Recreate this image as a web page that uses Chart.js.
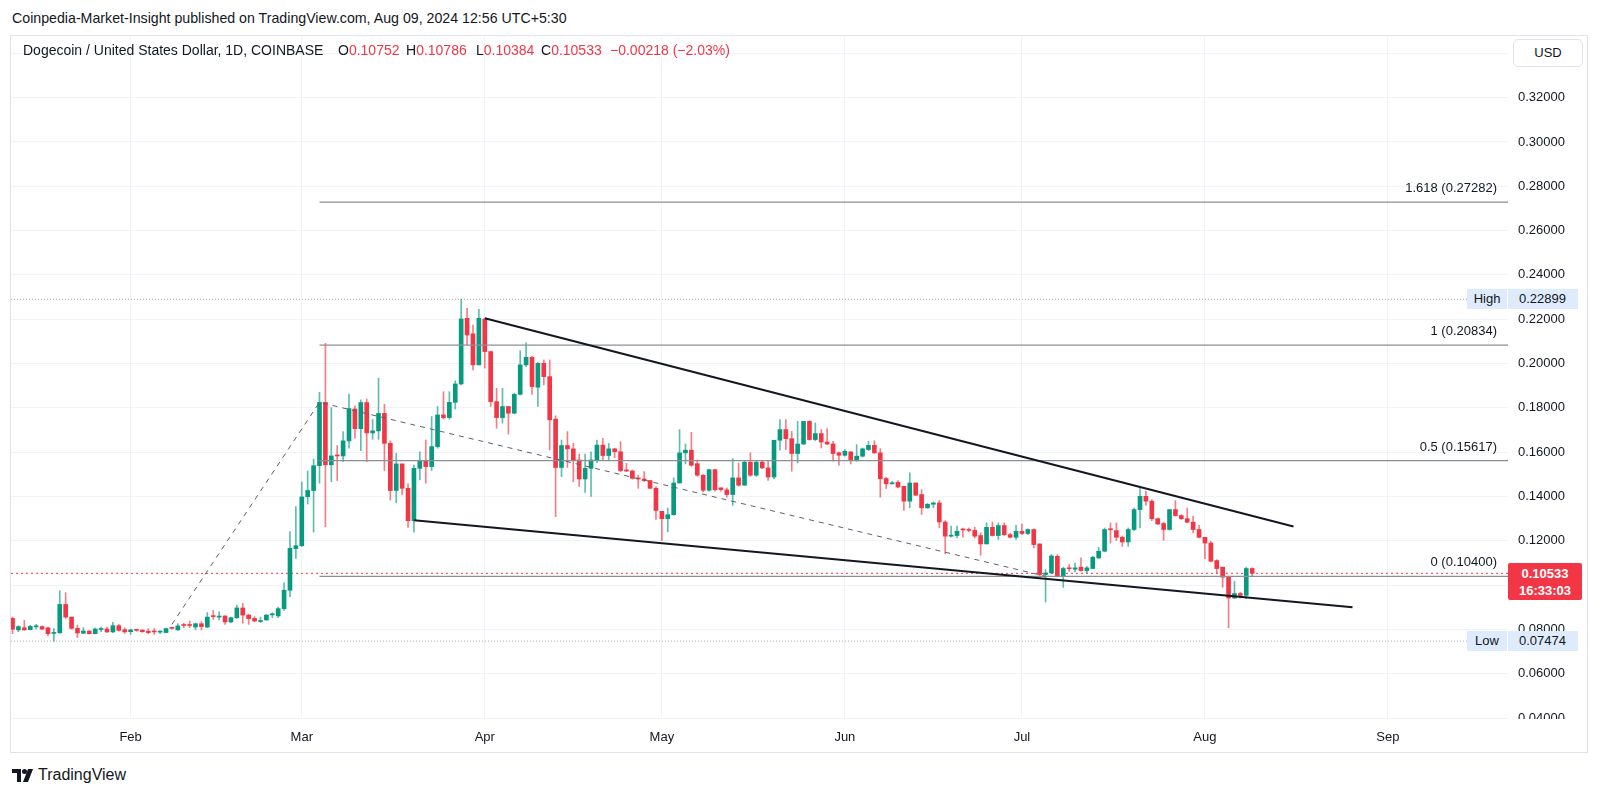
<!DOCTYPE html>
<html><head><meta charset="utf-8">
<script src="https://cdn.jsdelivr.net/npm/chart.js@4.4.1/dist/chart.umd.min.js"></script>
<style>
html,body{margin:0;padding:0}
body{width:1600px;height:796px;background:#fff;overflow:hidden;position:relative;font-family:"Liberation Sans",Arial,sans-serif;color:#131722}
#hdr{position:absolute;left:12px;top:10px;font-size:14.2px;white-space:nowrap}
#frame{position:absolute;left:10px;top:35px;width:1578px;height:718px;border:1px solid #e0e3eb;box-sizing:border-box}
#wrap{position:absolute;left:11px;top:36px;width:1577px;height:716px}
.lg{position:absolute;top:42px;font-size:14px;white-space:nowrap}
.red{color:#f23645}
.ov{position:absolute;white-space:nowrap;font-size:13px}
#foot{position:absolute;left:12px;top:765px;height:20px;display:flex;align-items:center}
#foot span{font-size:16px;margin-left:3px;color:#131722}
</style>
</head><body>
<div id="hdr">Coinpedia-Market-Insight published on TradingView.com, Aug 09, 2024 12:56 UTC+5:30</div>
<div id="frame"></div>
<div id="wrap"><canvas id="c"></canvas></div>
<div class="lg" style="left:23px">Dogecoin / United States Dollar, 1D, COINBASE</div>
<div class="lg" style="left:338px">O<span class="red">0.10752</span></div>
<div class="lg" style="left:406px">H<span class="red">0.10786</span></div>
<div class="lg" style="left:476px">L<span class="red">0.10384</span></div>
<div class="lg" style="left:541px">C<span class="red">0.10533</span></div>
<div class="lg red" style="left:610px">−0.00218 (−2.03%)</div>
<div class="ov" style="left:1513px;top:39px;width:70px;height:28px;border:1px solid #e0e3eb;border-radius:5px;box-sizing:border-box;background:#fff;text-align:center;line-height:26px">USD</div>
<div id="overlays"></div>
<div id="foot"><svg width="23" height="15" viewBox="0 0 23 15"><path d="M0 1h9v13H5V5H0z" fill="#131722"/><circle cx="12.5" cy="3.5" r="2.5" fill="#131722"/><path d="M16 1h5l-5 13h-5z" fill="#131722"/></svg><span>TradingView</span></div>
<script>
// ---- data ----
const firstDate = '2024-01-12';
const opens = [
 .0850,.0798,.0808,.0799,.0812,.0813,.0807,.0782,.0785,.0913,.0856,.0805,.0783,.0793,.0781,.0800,.0802,.0789,.0817,.0799,
 .0790,.0797,.0797,.0792,.0790,.0788,.0786,.0806,.0798,.0820,.0819,.0811,.0826,.0811,.0860,.0856,.0861,.0834,.0853,.0897,.0865,.0850,.0836,.0843,.0866,.0861,.0894,.0977,.1165,
 .1178,.1399,.1427,.1539,.1825,.1543,.1585,.1583,.1651,.1795,.1706,.1824,.1687,.1696,.1775,.1640,.1427,.1547,.1437,.1291,.1527,.1560,.1535,.1625,.1768,.1756,.1825,.1908,.2204,.2134,.1994,
 .2201,.2054,.1828,.1756,.1806,.1776,.1861,.1994,.2028,.1893,.2001,.1941,.1749,.1531,.1630,.1615,.1565,.1479,.1527,.1565,.1632,.1585,.1615,.1602,.1520,.1515,.1482,.1479,.1472,.1437,
 .1333,.1300,.1318,.1461,.1597,.1609,.1548,.1496,.1428,.1521,.1439,.1430,.1409,.1484,.1451,.1555,.1496,.1555,.1529,.1488,.1654,.1702,.1661,.1594,.1637,.1739,.1657,.1684,.1646,.1637,.1597,
 .1586,.1601,.1566,.1582,.1612,.1631,.1597,.1481,.1457,.1464,.1446,.1379,.1461,.1409,.1349,.1365,.1371,.1285,.1221,.1224,.1251,.1249,.1247,.1224,.1186,.1261,.1224,.1269,.1228,.1216,
 .1243,.1233,.1251,.1186,.1048,.1055,.1130,.1040,.1076,.1072,.1081,.1066,.1075,.1123,.1153,.1253,.1246,.1216,.1195,.1251,.1341,.1401,.1379,.1300,.1278,.1251,.1341,.1314,.1300,.1284,.1251,
 .1216,.1190,.1111,.1081,.1040,.0942,.0962,.0954,.10752];
const highs = [
 .0856,.0817,.0841,.0819,.0823,.0816,.0811,.0804,.0974,.0966,.0856,.0820,.0808,.0795,.0807,.0811,.0811,.0832,.0823,.0808,
 .0801,.0801,.0799,.0804,.0804,.0795,.0804,.0810,.0826,.0828,.0838,.0829,.0835,.0876,.0886,.0880,.0861,.0856,.0910,.0918,.0868,.0858,.0856,.0868,.0876,.0901,.1011,.1242,.1354,
 .1466,.1515,.1569,.1870,.2091,.1801,.1630,.1693,.1862,.1809,.1836,.1840,.1748,.1934,.1816,.1651,.1595,.1547,.1457,.1542,.1602,.1655,.1761,.1806,.1873,.1873,.1922,.22899,.2249,.2174,.2245,
 .2201,.2054,.1888,.1888,.1806,.1866,.2058,.2094,.2034,.2004,.2016,.2016,.1764,.1655,.1693,.1640,.1592,.1592,.1602,.1655,.1662,.1640,.1618,.1647,.1550,.1520,.1497,.1512,.1472,.1445,
 .1333,.1348,.1484,.1702,.1637,.1690,.1565,.1499,.1524,.1524,.1439,.1439,.1571,.1551,.1559,.1597,.1559,.1559,.1559,.1654,.1747,.1747,.1694,.1739,.1739,.1742,.1732,.1702,.1706,.1649,.1600,
 .1612,.1604,.1634,.1619,.1649,.1652,.1616,.1487,.1469,.1472,.1446,.1507,.1461,.1431,.1368,.1376,.1382,.1291,.1266,.1266,.1258,.1258,.1261,.1236,.1281,.1285,.1281,.1281,.1234,.1270,
 .1276,.1254,.1254,.1186,.1070,.1138,.1138,.1081,.1093,.1100,.1123,.1085,.1130,.1171,.1258,.1281,.1281,.1221,.1258,.1348,.1439,.1424,.1386,.1303,.1284,.1341,.1381,.1318,.1348,.1311,.1270,
 .1216,.1198,.1115,.1081,.1040,.1017,.0968,.1081,.10786];
const lows = [
 .0781,.0790,.0796,.0798,.0801,.0799,.0771,.07474,.0783,.0850,.0801,.0763,.0781,.0779,.0780,.0790,.0786,.0786,.0793,.0783,
 .0778,.0792,.0787,.0781,.0778,.0781,.0784,.0801,.0796,.0808,.0808,.0798,.0798,.0808,.0846,.0843,.0823,.0831,.0850,.0828,.0823,.0835,.0831,.0841,.0853,.0853,.0886,.0948,.1121,
 .1174,.1366,.1239,.1460,.1264,.1467,.1472,.1557,.1618,.1663,.1607,.1558,.1658,.1658,.1517,.1384,.1372,.1407,.1261,.1239,.1475,.1460,.1517,.1618,.1749,.1749,.1795,.1904,.2084,.1971,.1994,
 .1979,.1806,.1708,.1731,.1682,.1773,.1858,.1986,.1861,.1806,.1904,.1610,.1309,.1490,.1531,.1467,.1445,.1418,.1400,.1553,.1565,.1565,.1575,.1512,.1512,.1478,.1437,.1467,.1437,.1297,
 .1201,.1240,.1315,.1461,.1547,.1536,.1491,.1421,.1424,.1424,.1424,.1397,.1360,.1446,.1451,.1491,.1491,.1526,.1473,.1481,.1609,.1612,.1514,.1551,.1634,.1654,.1652,.1619,.1634,.1559,.1541,
 .1582,.1547,.1559,.1577,.1607,.1594,.1397,.1436,.1457,.1439,.1337,.1349,.1404,.1319,.1346,.1349,.1258,.1141,.1216,.1213,.1216,.1240,.1213,.1135,.1186,.1221,.1206,.1224,.1213,.1206,
 .1228,.1228,.1168,.1040,.0924,.1051,.1037,.0990,.1062,.1059,.1063,.1055,.1075,.1120,.1150,.1190,.1201,.1175,.1175,.1246,.1258,.1360,.1291,.1273,.1202,.1248,.1311,.1296,.1281,.1236,.1213,
 .1120,.1105,.1055,.0990,.0807,.0939,.0942,.0939,.10384];
const closes = [
 .0801,.0813,.0798,.0814,.0815,.0802,.0781,.0786,.0913,.0856,.0805,.0784,.0793,.0781,.0802,.0803,.0789,.0817,.0796,.0789,
 .0798,.0796,.0790,.0786,.0789,.0790,.0804,.0805,.0816,.0818,.0818,.0826,.0813,.0856,.0858,.0859,.0834,.0853,.0897,.0865,.0849,.0838,.0840,.0865,.0869,.0894,.0977,.1166,.1178,
 .1398,.1427,.1539,.1825,.1543,.1583,.1583,.1651,.1797,.1706,.1824,.1687,.1696,.1775,.1640,.1427,.1547,.1437,.1291,.1527,.1560,.1535,.1625,.1768,.1756,.1825,.1908,.2201,.2129,.1994,.2204,
 .2054,.1828,.1756,.1806,.1776,.1861,.1994,.2028,.1896,.2001,.1941,.1746,.1531,.1630,.1615,.1562,.1479,.1527,.1565,.1632,.1585,.1615,.1602,.1517,.1515,.1482,.1479,.1472,.1437,.1337,
 .1300,.1318,.1461,.1597,.1609,.1541,.1496,.1428,.1521,.1431,.1431,.1409,.1484,.1451,.1555,.1496,.1555,.1529,.1488,.1654,.1702,.1661,.1594,.1637,.1739,.1657,.1684,.1646,.1637,.1594,.1586,
 .1604,.1566,.1582,.1615,.1631,.1597,.1480,.1457,.1462,.1443,.1379,.1461,.1406,.1349,.1365,.1371,.1285,.1221,.1224,.1243,.1249,.1247,.1221,.1186,.1261,.1224,.1269,.1228,.1216,.1243,
 .1233,.1251,.1183,.1048,.1055,.1132,.1040,.1075,.1074,.1078,.1066,.1078,.1126,.1153,.1251,.1250,.1216,.1195,.1251,.1341,.1401,.1379,.1300,.1276,.1251,.1341,.1314,.1300,.1284,.1251,.1216,
 .1190,.1108,.1075,.1036,.0942,.0962,.0954,.1075,.10533];

const monthTicks = ['2024-02-01','2024-03-01','2024-04-01','2024-05-01','2024-06-01','2024-07-01','2024-08-01','2024-09-01'];
const monthLabels = ['Feb','Mar','Apr','May','Jun','Jul','Aug','Sep'];

const fibRatios = ['1.618','1','0.5','0'];
const fibLevels = [0.27282, 0.20834, 0.15617, 0.10400];
const fibStartDate = '2024-03-04';
const fibPathDates = ['2024-02-08','2024-03-04','2024-07-05'];
const fibPathPrices = [0.0823, 0.1825, 0.1040];
const upperTrendDates = ['2024-04-01','2024-08-16'];
const upperTrendPrices = [0.2204, 0.1265];
const lowerTrendDates = ['2024-03-20','2024-08-26'];
const lowerTrendPrices = [0.1293, 0.0900];
const highPrice = 0.22899, lowPrice = 0.07474, lastPrice = 0.10533;
const lastCountdown = '16:33:03';

// ---- helpers ----
const DAY = 86400000;
const ORIGIN = Date.UTC(2024,1,1);
function dayOf(s){ const p = s.split('-').map(Number); return (Date.UTC(p[0],p[1]-1,p[2]) - ORIGIN)/DAY; }
const dates = [];
{ const [y,m,d] = firstDate.split('-').map(Number); const s = Date.UTC(y,m-1,d);
  for (let i=0;i<opens.length;i++) dates.push(new Date(s+i*DAY).toISOString().slice(0,10)); }

const X_MIN = -20.26, X_MAX = 233.34;
const UP = '#089981', DOWN = '#f23645';
const isUp = closes.map((c,i)=>c>=opens[i]);
const bodyData = dates.map((d,i)=>({x:dayOf(d), y:[Math.min(opens[i],closes[i]), Math.max(opens[i],closes[i])]}));
const wickData = dates.map((d,i)=>({x:dayOf(d), y:[lows[i], highs[i]]}));
const line = (xs, ys) => xs.map((x,i)=>({x, y:ys[i]}));

const datasets = [
  {type:'line', label:'upper', data: line(upperTrendDates.map(dayOf), upperTrendPrices), borderColor:'#131722', borderWidth:2, pointRadius:0, order:0},
  {type:'line', label:'lower', data: line(lowerTrendDates.map(dayOf), lowerTrendPrices), borderColor:'#131722', borderWidth:2, pointRadius:0, order:0},
  {type:'line', label:'fibpath', data: line(fibPathDates.map(dayOf), fibPathPrices), borderColor:'#5d606b', borderWidth:1, borderDash:[5,5], pointRadius:0, order:1},
];
fibLevels.forEach((lv,i)=>{
  datasets.push({type:'line', label:'fib'+fibRatios[i], data: line([dayOf(fibStartDate), X_MAX],[lv,lv]), borderColor:'#8c8f99', borderWidth:1.2, pointRadius:0, order:2});
});
datasets.push(
  {type:'bar', label:'body', data: bodyData, backgroundColor: isUp.map(u=>u?UP:DOWN), barThickness:4, minBarLength:1, grouped:false, borderWidth:0, order:4},
  {type:'bar', label:'wick', data: wickData, backgroundColor: isUp.map(u=>u?'rgba(8,153,129,0.65)':'rgba(242,54,69,0.65)'), barThickness:1, minBarLength:1, grouped:false, borderWidth:0, order:5},
  {type:'line', label:'last', data: line([X_MIN, X_MAX],[lastPrice,lastPrice]), borderColor:'#f23645', borderWidth:1, borderDash:[2,3], pointRadius:0, order:6},
  {type:'line', label:'high', data: line([X_MIN, X_MAX],[highPrice,highPrice]), borderColor:'#a3a6af', borderWidth:1, borderDash:[1,2], pointRadius:0, order:6},
  {type:'line', label:'low', data: line([X_MIN, X_MAX],[lowPrice,lowPrice]), borderColor:'#a3a6af', borderWidth:1, borderDash:[1,2], pointRadius:0, order:6}
);

const WRAP_L = 11, WRAP_T = 36;
let placed = false;
const overlayPlugin = {
  id:'ov',
  afterDraw(chart){
    if (placed) return; placed = true;
    const y = chart.scales.y, ca = chart.chartArea;
    const host = document.getElementById('overlays');
    const R = WRAP_L + ca.right;
    let html = '';
    fibLevels.forEach((lv,i)=>{
      const py = WRAP_T + y.getPixelForValue(lv);
      html += `<div class="ov" style="right:${1600-(R-11)}px;top:${py-22}px;line-height:16px">${fibRatios[i]} (${lv.toFixed(5)})</div>`;
    });
    const tag = (label, val) => {
      const py = WRAP_T + y.getPixelForValue(val);
      return `<div class="ov" style="left:${R-41}px;top:${py-10}px;width:40px;height:20px;line-height:20px;background:#deebfc;text-align:center">${label}</div>`+
             `<div class="ov" style="left:${R}px;top:${py-10}px;width:70px;height:20px;line-height:20px;background:#deebfc;padding-left:11px;box-sizing:border-box">${val.toFixed(5)}</div>`;
    };
    html += tag('High', highPrice) + tag('Low', lowPrice);
    const lp = WRAP_T + y.getPixelForValue(lastPrice);
    html += `<div class="ov" style="left:${R}px;top:${lp-10.5}px;width:74px;height:37px;background:#f23645;color:#fff;text-align:center;font-weight:bold;line-height:17px;padding-top:2px;box-sizing:border-box;border-radius:2px">${lastPrice.toFixed(5)}<br>${lastCountdown}</div>`;
    html += `<div class="ov" style="left:${R+1}px;top:${WRAP_T+ca.bottom}px;width:78px;height:32px;background:#fff"></div>`;
    host.innerHTML = html;
  }
};

new Chart(document.getElementById('c'), {
  type:'bar',
  data:{datasets},
  plugins:[overlayPlugin],
  options:{
    responsive:true, maintainAspectRatio:false, animation:false, events:[],
    layout:{padding:0},
    plugins:{legend:{display:false}, tooltip:{enabled:false}},
    scales:{
      x:{type:'linear', min:X_MIN, max:X_MAX, offset:false,
         grid:{color:'#f0f3fa', drawTicks:false, offset:false},
         border:{display:false},
         afterBuildTicks:s=>{ s.ticks = monthTicks.map(d=>({value:dayOf(d)})); },
         afterFit:s=>{ s.height = 33; s.paddingLeft = 0; s.paddingRight = 0; },
         ticks:{autoSkip:false, maxRotation:0, padding:11, color:'#131722', font:{family:'Liberation Sans', size:13},
                callback:(v,i)=>monthLabels[i]}},
      y:{type:'linear', position:'right', min:0.0396, max:0.3478,
         grid:{color:'#f0f3fa', drawTicks:false},
         border:{display:false},
         afterFit:s=>{ s.width = 80; s.paddingTop = 0; s.paddingBottom = 0; },
         ticks:{stepSize:0.02, includeBounds:false, padding:10, color:'#131722', font:{family:'Liberation Sans', size:13},
                callback:v=>Number(v).toFixed(5)}}
    }
  }
});
</script>
</body></html>
